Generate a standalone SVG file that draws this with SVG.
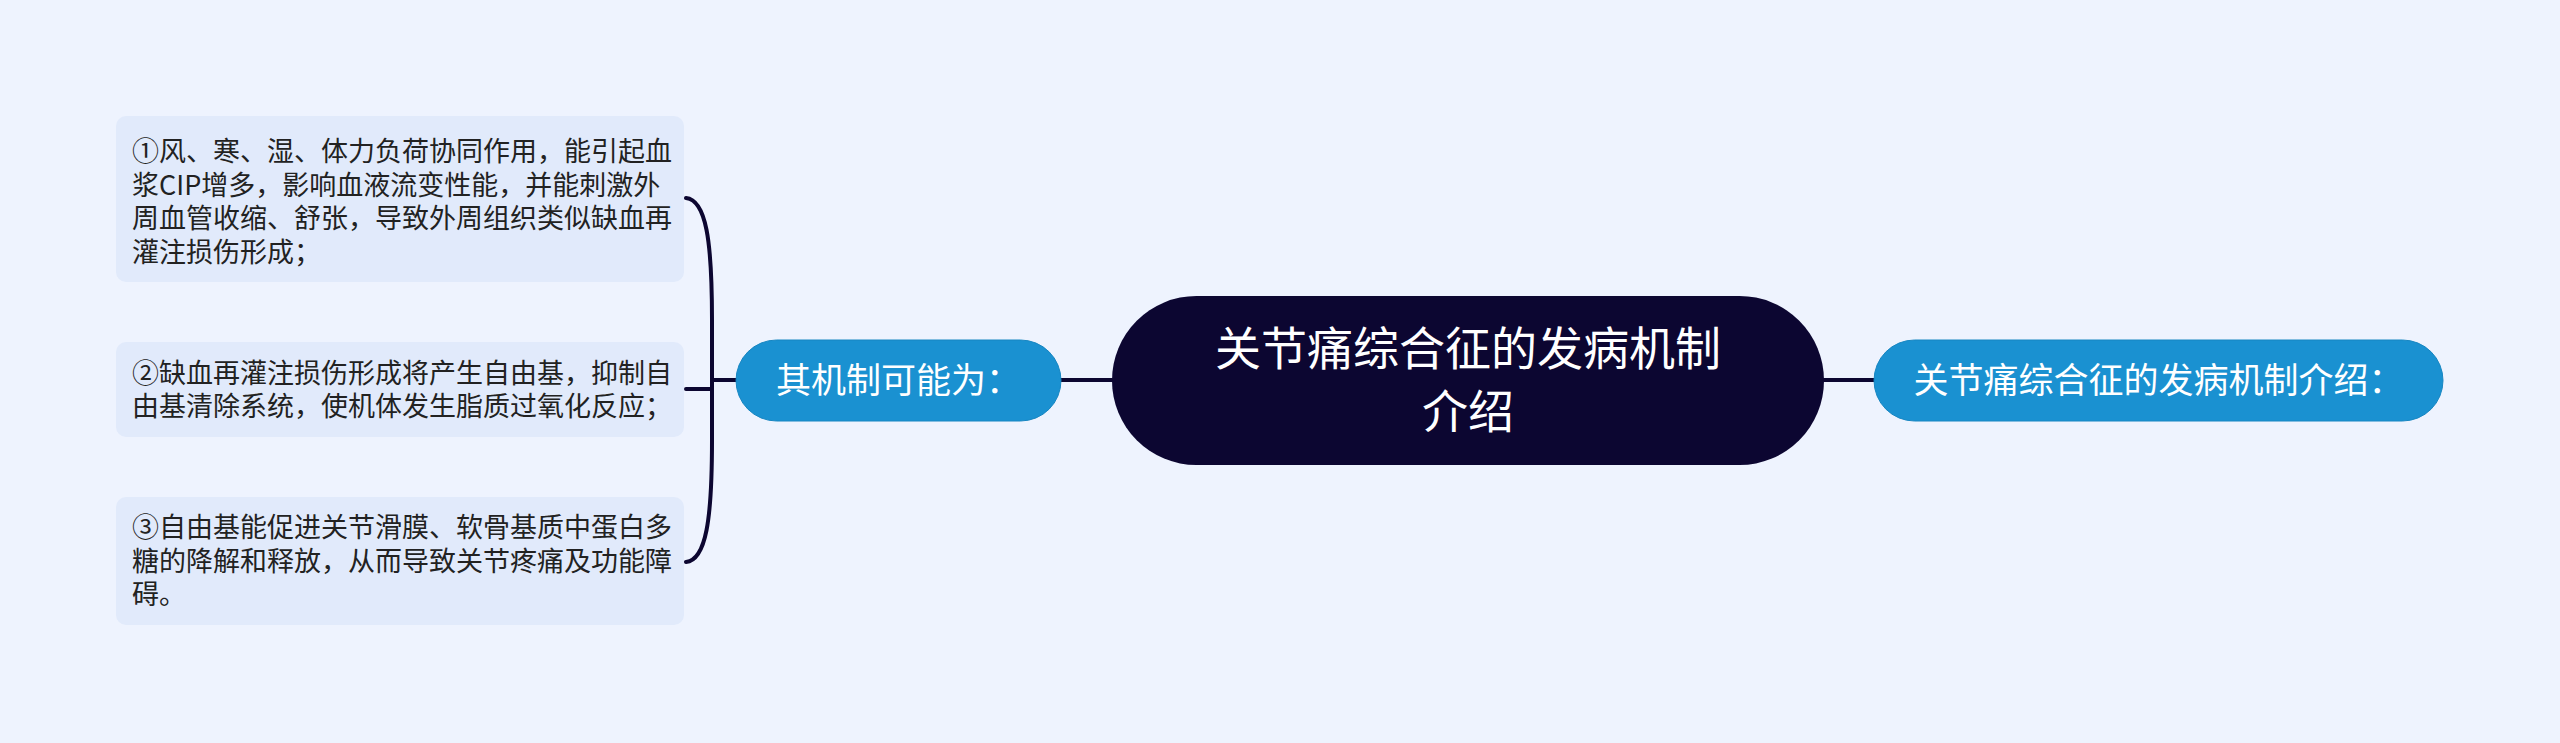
<svg xmlns="http://www.w3.org/2000/svg" width="2560" height="743" viewBox="0 0 2560 743">
<style>
.bg{fill:#EEF3FE}
.leaf rect{fill:#E1EAFB}
.leaf text{font-family:"Noto Sans CJK SC","Noto Sans",sans-serif;font-size:27px;fill:#222222}
.sub rect{fill:#1A91D1;stroke:#1786C2;stroke-width:1}
.sub text{font-family:"Noto Sans CJK SC","Noto Sans",sans-serif;font-size:35px;fill:#FFFFFF;text-anchor:middle}
.root rect{fill:#0C0631}
.root text{font-family:"Noto Sans CJK SC","Noto Sans",sans-serif;font-size:46px;fill:#FFFFFF;text-anchor:middle}
.conn path{fill:none;stroke:#0C0631;stroke-width:4;stroke-linecap:round;stroke-linejoin:round}
</style>
<rect class="bg" x="0" y="0" width="2560" height="743"/>
<g id="connectors" class="conn">
<path d="M1061,380 L1112,380"/>
<path d="M1824,380 L1874,380"/>
<path d="M736,380 L712,380"/>
<path d="M712,380 L712,320 C712,240 706,200 686,198"/>
<path d="M712,380 L712,389 L686,389"/>
<path d="M712,380 L712,440 C712,520 706,560 686,562"/>
</g>
<g id="root" class="root">
<rect x="1112" y="296" width="712" height="169" rx="84.5" ry="84.5"/>
<text><tspan x="1468" y="365">关节痛综合征的发病机制</tspan><tspan x="1468" y="428">介绍</tspan></text>
</g>
<g id="right-node" class="sub">
<rect x="1874" y="340" width="569" height="81" rx="40.5" ry="40.5"/>
<text x="2158.5" y="393">关节痛综合征的发病机制介绍：</text>
</g>
<g id="left-node" class="sub">
<rect x="736" y="340" width="325" height="81" rx="40.5" ry="40.5"/>
<text x="898.5" y="393">其机制可能为：</text>
</g>
<g id="leaf1" class="leaf">
<rect x="116" y="116" width="568" height="166" rx="10" ry="10"/>
<text><tspan x="132" y="161">①风、寒、湿、体力负荷协同作用，能引起血</tspan><tspan x="132" y="194.5">浆CIP增多，影响血液流变性能，并能刺激外</tspan><tspan x="132" y="228">周血管收缩、舒张，导致外周组织类似缺血再</tspan><tspan x="132" y="261.5">灌注损伤形成；</tspan></text>
</g>
<g id="leaf2" class="leaf">
<rect x="116" y="342" width="568" height="95" rx="10" ry="10"/>
<text><tspan x="132" y="382.5">②缺血再灌注损伤形成将产生自由基，抑制自</tspan><tspan x="132" y="416">由基清除系统，使机体发生脂质过氧化反应；</tspan></text>
</g>
<g id="leaf3" class="leaf">
<rect x="116" y="497" width="568" height="128" rx="10" ry="10"/>
<text><tspan x="132" y="537">③自由基能促进关节滑膜、软骨基质中蛋白多</tspan><tspan x="132" y="570.5">糖的降解和释放，从而导致关节疼痛及功能障</tspan><tspan x="132" y="604">碍。</tspan></text>
</g>
</svg>
